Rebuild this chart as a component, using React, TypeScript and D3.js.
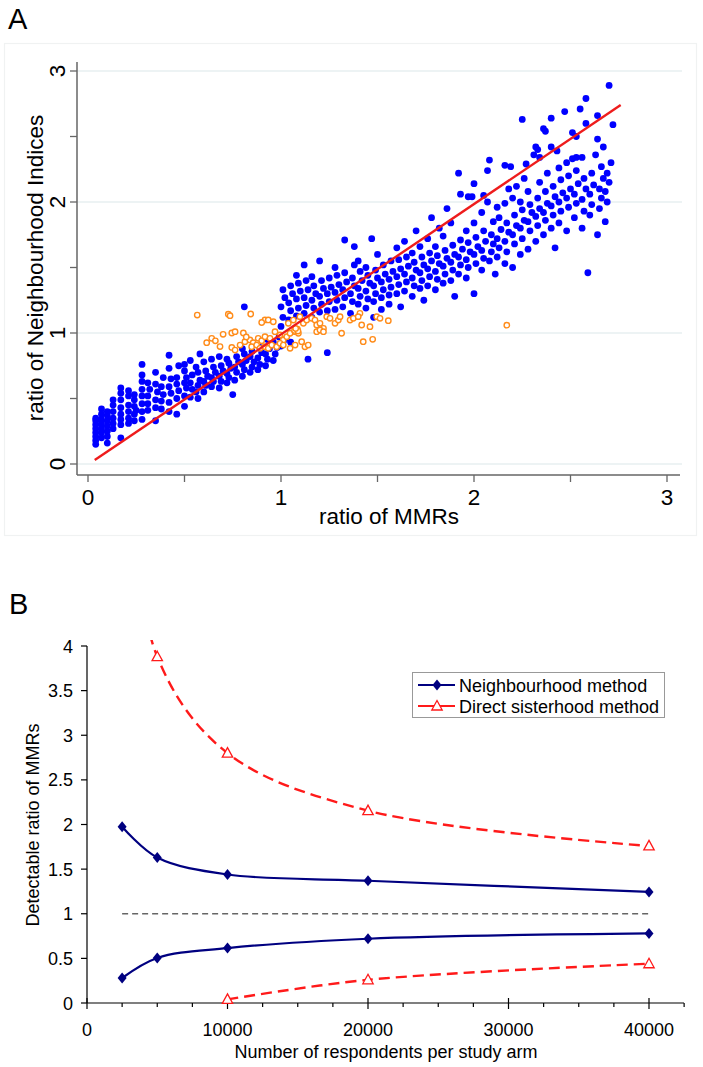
import React from "react";
import * as d3 from "d3";

// ---------- Panel A data ----------
const blueLow: [number, number][] = [
  [0.04,0.15],[0.04,0.18],[0.04,0.21],[0.04,0.24],[0.04,0.27],[0.04,0.30],[0.04,0.33],[0.04,0.35],
  [0.07,0.20],[0.07,0.24],[0.07,0.27],[0.07,0.31],[0.07,0.34],[0.07,0.38],[0.07,0.42],
  [0.10,0.16],[0.10,0.21],[0.10,0.25],[0.10,0.29],[0.10,0.33],[0.10,0.37],[0.10,0.40],
  [0.13,0.27],[0.13,0.31],[0.13,0.35],[0.13,0.40],[0.13,0.45],[0.13,0.49],
  [0.17,0.20],[0.17,0.30],[0.17,0.34],[0.17,0.38],[0.17,0.43],[0.17,0.49],[0.17,0.54],[0.17,0.58],
  [0.21,0.31],[0.21,0.35],[0.21,0.40],[0.21,0.45],[0.21,0.52],[0.21,0.56],
  [0.24,0.33],[0.24,0.38],[0.24,0.44],[0.24,0.49],[0.24,0.53],[0.25,0.41],
  [0.28,0.34],[0.28,0.40],[0.28,0.46],[0.28,0.52],[0.28,0.57],[0.28,0.63],[0.28,0.68],[0.28,0.76],
  [0.31,0.41],[0.31,0.46],[0.31,0.52],[0.32,0.57],[0.31,0.62],
  [0.35,0.33],[0.35,0.43],[0.35,0.49],[0.36,0.55],[0.35,0.61],[0.35,0.70],
  [0.38,0.42],[0.38,0.48],[0.39,0.53],[0.38,0.59],[0.39,0.66],
  [0.42,0.40],[0.42,0.47],[0.43,0.54],[0.42,0.59],[0.43,0.65],[0.42,0.73],[0.42,0.83],
  [0.46,0.38],[0.46,0.50],[0.47,0.56],[0.46,0.61],[0.46,0.66],[0.47,0.75],
  [0.50,0.44],[0.50,0.52],[0.51,0.58],[0.50,0.62],[0.51,0.66],[0.50,0.71],[0.50,0.76],
  [0.53,0.51],[0.54,0.57],[0.53,0.62],[0.54,0.68],[0.53,0.79],
  [0.57,0.50],[0.56,0.55],[0.57,0.60],[0.58,0.64],[0.57,0.70],[0.56,0.74],[0.58,0.84],
];

const blueMid: [number, number][] = [
  [0.60,0.55],[0.61,0.60],[0.60,0.63],[0.62,0.67],[0.61,0.71],[0.60,0.78],
  [0.64,0.59],[0.65,0.63],[0.64,0.66],[0.66,0.70],[0.65,0.74],[0.64,0.80],
  [0.68,0.58],[0.69,0.63],[0.68,0.67],[0.70,0.71],[0.69,0.75],[0.68,0.82],
  [0.72,0.62],[0.73,0.66],[0.72,0.69],[0.74,0.73],[0.73,0.77],[0.72,0.80],
  [0.75,0.53],[0.76,0.64],[0.77,0.70],[0.76,0.74],[0.78,0.78],[0.77,0.82],
  [0.80,0.67],[0.81,0.72],[0.80,0.76],[0.82,0.79],[0.81,0.84],[0.80,0.88],[0.81,1.20],
  [0.84,0.70],[0.85,0.74],[0.86,0.78],[0.84,0.82],[0.85,0.86],
  [0.88,0.72],[0.89,0.76],[0.88,0.81],[0.90,0.85],[0.89,0.89],
  [0.92,0.75],[0.93,0.80],[0.92,0.84],[0.94,0.88],[0.93,0.95],
  [0.96,0.79],[0.97,0.84],[0.98,0.89],[0.96,0.93],[0.99,0.97],
  [1.00,1.05],[1.01,1.12],[1.00,1.20],[1.02,1.27],[1.01,1.33],[1.00,0.90],[1.02,0.95],
  [1.04,1.10],[1.05,1.17],[1.04,1.23],[1.06,1.30],[1.05,1.36],[1.05,0.93],
  [1.08,1.13],[1.09,1.19],[1.08,1.26],[1.10,1.32],[1.09,1.38],[1.08,1.44],
  [1.12,1.15],[1.13,1.21],[1.12,1.27],[1.14,1.33],[1.13,1.40],[1.14,0.80],[1.12,1.52],
  [1.16,1.12],[1.17,1.19],[1.16,1.25],[1.18,1.30],[1.17,1.36],[1.16,1.43],
  [1.20,1.16],[1.21,1.22],[1.20,1.28],[1.22,1.34],[1.21,1.40],[1.20,1.55],
  [1.24,0.85],[1.24,1.17],[1.25,1.24],[1.24,1.30],[1.26,1.35],[1.25,1.42],
  [1.28,1.18],[1.29,1.25],[1.28,1.31],[1.30,1.37],[1.29,1.44],[1.28,1.50],
  [1.32,1.20],[1.33,1.27],[1.32,1.33],[1.34,1.39],[1.33,1.46],[1.33,1.71],
  [1.36,1.15],[1.37,1.24],[1.36,1.30],[1.38,1.36],[1.37,1.42],[1.38,1.66],[1.38,1.52],
  [1.40,1.22],[1.41,1.28],[1.40,1.34],[1.42,1.40],[1.41,1.47],[1.40,1.55],
  [1.44,1.19],[1.45,1.26],[1.44,1.32],[1.46,1.38],[1.45,1.44],[1.44,1.50],[1.47,1.72],
  [1.48,1.24],[1.49,1.30],[1.48,1.36],[1.50,1.42],[1.49,1.48],[1.50,1.60],[1.48,1.12],
  [1.52,1.27],[1.53,1.33],[1.52,1.39],[1.54,1.45],[1.53,1.52],[1.52,1.18],
  [1.56,1.29],[1.57,1.35],[1.56,1.41],[1.58,1.47],[1.57,1.55],[1.56,1.22],
];

const blueHigh: [number, number][] = [
  [1.60,1.30],[1.61,1.37],[1.60,1.43],[1.62,1.49],[1.61,1.56],[1.60,1.65],[1.62,1.20],
  [1.64,1.32],[1.65,1.39],[1.64,1.45],[1.66,1.51],[1.65,1.58],[1.64,1.70],
  [1.68,1.28],[1.69,1.36],[1.68,1.42],[1.70,1.48],[1.69,1.54],[1.68,1.61],[1.70,1.78],
  [1.72,1.34],[1.73,1.40],[1.72,1.46],[1.74,1.52],[1.73,1.58],[1.72,1.66],[1.74,1.25],
  [1.76,1.36],[1.77,1.43],[1.76,1.49],[1.78,1.55],[1.77,1.61],[1.76,1.72],[1.78,1.88],
  [1.80,1.33],[1.81,1.41],[1.80,1.47],[1.82,1.53],[1.81,1.59],[1.80,1.66],[1.82,1.80],
  [1.84,1.38],[1.85,1.45],[1.84,1.51],[1.86,1.57],[1.85,1.63],[1.84,1.74],[1.86,1.95],
  [1.88,1.40],[1.89,1.48],[1.88,1.54],[1.90,1.60],[1.89,1.67],[1.88,1.84],[1.90,1.28],
  [1.92,1.45],[1.93,1.52],[1.92,1.58],[1.94,1.64],[1.93,1.71],[1.92,2.22],[1.93,2.06],
  [1.96,1.42],[1.97,1.50],[1.96,1.56],[1.98,1.62],[1.97,1.69],[1.96,1.78],[1.97,2.04],[1.99,2.04],
  [2.00,1.30],[2.01,1.53],[2.00,1.60],[2.02,1.66],[2.01,1.73],[2.00,1.84],[2.00,2.14],
  [2.04,1.48],[2.05,1.57],[2.04,1.63],[2.06,1.70],[2.05,1.78],[2.04,1.92],[2.05,2.05],[2.07,2.24],[2.07,2.00],[2.08,2.32],
  [2.08,1.55],[2.09,1.62],[2.10,1.68],[2.09,1.75],[2.10,1.85],[2.11,1.45],
  [2.12,1.58],[2.13,1.65],[2.12,1.72],[2.14,1.79],[2.13,1.88],[2.12,1.96],[2.16,2.28],[2.19,2.27],
  [2.16,1.53],[2.17,1.62],[2.16,1.70],[2.18,1.77],[2.17,1.84],[2.16,1.99],[2.18,2.10],
  [2.20,1.50],[2.21,1.68],[2.20,1.75],[2.22,1.82],[2.21,1.90],[2.20,2.03],[2.22,2.12],[2.25,2.63],[2.27,2.29],
  [2.24,1.60],[2.25,1.72],[2.24,1.80],[2.26,1.86],[2.25,1.94],[2.24,2.00],[2.26,2.18],
  [2.28,1.64],[2.29,1.78],[2.28,1.85],[2.30,1.92],[2.29,1.98],[2.28,2.08],[2.31,2.36],[2.32,2.42],[2.33,2.40],
  [2.32,1.70],[2.33,1.82],[2.32,1.89],[2.34,1.95],[2.33,2.03],[2.34,2.15],[2.34,2.34],[2.36,2.56],[2.37,2.54],
  [2.36,1.75],[2.37,1.86],[2.36,1.92],[2.38,1.99],[2.37,2.08],[2.38,2.22],[2.40,2.64],[2.40,2.42],
  [2.40,1.80],[2.41,1.90],[2.40,1.97],[2.42,2.04],[2.41,2.12],[2.43,2.39],[2.42,1.65],
  [2.44,1.84],[2.45,1.93],[2.44,2.00],[2.46,2.07],[2.45,2.17],[2.44,2.26],
  [2.47,2.69],[2.48,1.78],[2.49,1.96],[2.48,2.03],[2.50,2.10],[2.49,2.20],[2.48,2.30],
  [2.51,2.53],[2.51,2.33],[2.52,1.88],[2.53,1.99],[2.52,2.06],[2.54,2.14],[2.53,2.24],[2.53,2.50],[2.53,2.34],
  [2.55,2.71],[2.56,1.80],[2.57,1.93],[2.56,2.02],[2.58,2.10],[2.57,2.18],[2.56,2.34],[2.58,2.60],[2.58,2.79],[2.59,1.46],
  [2.60,1.90],[2.61,1.98],[2.60,2.06],[2.62,2.13],[2.61,2.22],[2.63,2.36],[2.64,2.66],[2.64,2.48],
  [2.64,1.75],[2.65,1.95],[2.66,2.03],[2.65,2.10],[2.67,2.18],[2.66,2.27],[2.67,2.42],
  [2.68,1.85],[2.69,2.00],[2.68,2.08],[2.70,2.15],[2.69,2.22],[2.70,2.89],[2.72,2.59],[2.71,2.30],
];

const orangePts: [number, number][] = [
  [0.566,1.137],[0.727,1.143],[0.736,1.132],[0.843,1.145],[0.917,1.10],[0.934,1.10],[0.96,1.086],
  [0.745,1.0],[0.762,1.01],[0.805,1.0],[0.615,0.926],[0.641,0.959],[0.684,0.896],[0.745,0.89],[0.762,0.87],
  [0.788,0.908],[0.813,0.934],[0.839,0.947],[0.856,0.926],[0.882,0.959],[0.90,0.941],[0.917,0.972],
  [0.943,0.959],[0.969,1.01],[0.995,0.985],[1.012,0.947],[1.03,0.972],[1.047,0.998],[1.073,1.01],[1.081,1.023],[1.09,0.998],
  [0.848,0.895],[0.874,0.908],[0.891,0.883],[0.917,0.895],[0.934,0.883],[0.952,0.908],[0.978,0.895],[0.995,0.921],[1.012,0.908],
  [1.047,0.883],[1.073,0.908],[1.107,0.934],[1.124,0.895],[1.141,0.908],
  [1.038,1.074],[1.064,1.099],[1.098,1.125],[1.116,1.074],[1.133,1.099],[1.159,1.112],[1.176,1.099],[1.185,1.061],
  [1.202,1.074],[1.22,1.036],[1.237,1.125],[1.254,1.112],[1.28,1.074],[1.297,1.099],[1.306,1.125],[1.314,0.998],
  [1.185,1.01],[1.202,1.023],[1.22,1.01],
  [1.358,1.099],[1.375,1.112],[1.409,1.15],[1.40,1.125],[1.418,1.061],[1.461,1.048],[1.496,1.125],[1.513,1.112],[1.556,1.094],
  [1.426,0.934],[1.475,0.952],[2.17,1.06],
  [1.07,1.02],[1.085,1.03],[1.088,1.015],[1.076,1.035],[0.90,1.08],[0.70,0.99],[0.66,0.94],[0.82,0.97],
];

const fitX = [0.035, 2.76];
const fitY = [0.03, 2.74];

const axisATicks = [0, 1, 2, 3];
const axisAMinor = [0.5, 1.5, 2.5];

// ---------- Panel B data ----------
const respondents = [2500, 5000, 10000, 20000, 40000];
const nbUpper = [1.975, 1.63, 1.44, 1.37, 1.245];
const nbLower = [0.28, 0.505, 0.615, 0.72, 0.78];
const dsRespUpper = [2500, 5000, 10000, 20000, 40000];
const dsUpper = [6.4, 3.88, 2.8, 2.155, 1.76];
const dsRespLower = [10000, 20000, 40000];
const dsLower = [0.04, 0.26, 0.44];
const refLevel = 1;
const yBTicks = [0, 0.5, 1, 1.5, 2, 2.5, 3, 3.5, 4];
const xBTicks = [0, 10000, 20000, 30000, 40000];
const legendLabels = ["Neighbourhood method", "Direct sisterhood method"];

const FONT = "'Liberation Sans', Arial, sans-serif";
const NAVY = "#000080";
const RED = "#ff1a1a";

export default function App() {
  // Panel A scales
  const xA = d3.scaleLinear().domain([0, 3]).range([88, 667]);
  const yA = d3.scaleLinear().domain([0, 3]).range([464, 71]);
  const axA = 77;
  const ayA = 475;
  const gridEndA = 682;

  // Panel B scales
  const xB = d3.scaleLinear().domain([0, 40000]).range([87, 649]);
  const yB = d3.scaleLinear().domain([0, 4]).range([1003, 646]);
  const curve = d3.curveCatmullRom.alpha(0.5);
  const lineB = (xs: number[], ys: number[]) =>
    d3.line<number>().x((_, i) => xB(xs[i])).y((d) => yB(d)).curve(curve)(ys) || "";

  const xBMinor = d3.range(0, 42501, 2500).filter((v) => v % 10000 !== 0);

  const diamond = "M0,-5.5L4.5,0L0,5.5L-4.5,0Z";
  const triangle = "M0,-5.5L5.2,4L-5.2,4Z";

  const allBlue = [...blueLow, ...blueMid, ...blueHigh];

  return (
    <svg width={703} height={1067} style={{ position: "absolute", left: 0, top: 0, background: "#fff" }} fontFamily={FONT}>
      <rect x={0} y={0} width={703} height={1067} fill="#fff" />
      {/* ===== Panel A ===== */}
      <text x={8} y={29} fontSize={29} fill="#000">A</text>
      <rect x={4.5} y={43.5} width={692} height={492} fill="none" stroke="#f0f2f2" strokeWidth={1.2} />
      {axisATicks.map((t) => (
        <line key={"g" + t} x1={axA} x2={gridEndA} y1={yA(t)} y2={yA(t)} stroke="#e7eff0" strokeWidth={1.5} />
      ))}
      <line x1={axA} x2={axA} y1={62} y2={ayA} stroke="#666" strokeWidth={1.5} />
      <line x1={axA} x2={680} y1={ayA} y2={ayA} stroke="#666" strokeWidth={1.5} />
      {[...axisATicks, ...axisAMinor].map((t) => (
        <line key={"yt" + t} x1={axA - 7} x2={axA} y1={yA(t)} y2={yA(t)} stroke="#666" strokeWidth={1.3} />
      ))}
      {[...axisATicks, ...axisAMinor].map((t) => (
        <line key={"xt" + t} x1={xA(t)} x2={xA(t)} y1={ayA} y2={ayA + 7} stroke="#666" strokeWidth={1.3} />
      ))}
      {axisATicks.map((t) => (
        <text key={"yl" + t} transform={`translate(65,${yA(t)}) rotate(-90)`} textAnchor="middle" fontSize={22.5} fill="#000">
          {t}
        </text>
      ))}
      {axisATicks.map((t) => (
        <text key={"xl" + t} x={xA(t)} y={505} textAnchor="middle" fontSize={22.5} fill="#000">
          {t}
        </text>
      ))}
      <text x={389} y={524} textAnchor="middle" fontSize={22.5} fill="#000">ratio of MMRs</text>
      <text transform="translate(43,268) rotate(-90)" textAnchor="middle" fontSize={22.5} fill="#000">
        ratio of Neighbourhood Indices
      </text>
      {allBlue.map(([x, y], i) => (
        <circle key={"b" + i} cx={xA(x)} cy={yA(y)} r={3.4} fill="#0000ff" />
      ))}
      {orangePts.map(([x, y], i) => (
        <circle key={"o" + i} cx={xA(x)} cy={yA(y)} r={2.7} fill="#fff" stroke="#ff8c1a" strokeWidth={1.4} />
      ))}
      <line x1={xA(fitX[0])} y1={yA(fitY[0])} x2={xA(fitX[1])} y2={yA(fitY[1])} stroke="#ee1c1c" strokeWidth={2.4} />

      {/* ===== Panel B ===== */}
      <text x={9} y={614} fontSize={29} fill="#000">B</text>
      <defs>
        <clipPath id="plotB">
          <rect x={87} y={640} width={600} height={370} />
        </clipPath>
      </defs>
      <line x1={87} x2={87} y1={646} y2={1003} stroke="#000" strokeWidth={1.2} />
      <line x1={87} x2={684} y1={1003} y2={1003} stroke="#000" strokeWidth={1.2} />
      {yBTicks.map((t) => (
        <g key={"ybt" + t}>
          <line x1={81} x2={87} y1={yB(t)} y2={yB(t)} stroke="#000" strokeWidth={1.2} />
          <text x={73} y={yB(t) + 6.5} textAnchor="end" fontSize={18} fill="#000">{t}</text>
        </g>
      ))}
      {xBTicks.map((t) => (
        <g key={"xbt" + t}>
          <line x1={xB(t)} x2={xB(t)} y1={998} y2={1009} stroke="#000" strokeWidth={1.2} />
          <text x={xB(t)} y={1036} textAnchor="middle" fontSize={18} fill="#000">{t}</text>
        </g>
      ))}
      {xBMinor.map((t) => (
        <line key={"xbm" + t} x1={xB(t)} x2={xB(t)} y1={1003} y2={1007} stroke="#000" strokeWidth={1.2} />
      ))}
      <text x={386} y={1058} textAnchor="middle" fontSize={18} fill="#000">Number of respondents per study arm</text>
      <text transform="translate(39,825) rotate(-90)" textAnchor="middle" fontSize={18} fill="#000">
        Detectable ratio of MMRs
      </text>

      <line x1={xB(2500)} x2={xB(40000)} y1={yB(refLevel)} y2={yB(refLevel)} stroke="#666" strokeWidth={1.6} strokeDasharray="6,4" />

      <g clipPath="url(#plotB)">
        <path d={lineB(dsRespUpper, dsUpper)} fill="none" stroke={RED} strokeWidth={2.4} strokeDasharray="11,6" />
      </g>
      <path d={lineB(dsRespLower, dsLower)} fill="none" stroke={RED} strokeWidth={2.4} strokeDasharray="11,6" />
      <path d={lineB(respondents, nbUpper)} fill="none" stroke={NAVY} strokeWidth={2.2} />
      <path d={lineB(respondents, nbLower)} fill="none" stroke={NAVY} strokeWidth={2.2} />

      {respondents.map((r, i) => (
        <path key={"du" + i} d={diamond} transform={`translate(${xB(r)},${yB(nbUpper[i])})`} fill={NAVY} />
      ))}
      {respondents.map((r, i) => (
        <path key={"dl" + i} d={diamond} transform={`translate(${xB(r)},${yB(nbLower[i])})`} fill={NAVY} />
      ))}
      {dsRespUpper.map((r, i) =>
        dsUpper[i] <= 4 ? (
          <path key={"tu" + i} d={triangle} transform={`translate(${xB(r)},${yB(dsUpper[i])})`} fill="#fff" stroke={RED} strokeWidth={1.3} />
        ) : null
      )}
      {dsRespLower.map((r, i) => (
        <path key={"tl" + i} d={triangle} transform={`translate(${xB(r)},${yB(dsLower[i])})`} fill="#fff" stroke={RED} strokeWidth={1.3} />
      ))}

      {/* Legend */}
      <rect x={412.5} y={672.5} width={252} height={45} fill="#fff" stroke="#999" strokeWidth={1} />
      <line x1={418} x2={455} y1={685} y2={685} stroke={NAVY} strokeWidth={2.2} />
      <path d={diamond} transform="translate(437,685)" fill={NAVY} />
      <text x={459} y={691.5} fontSize={18} fill="#000">{legendLabels[0]}</text>
      <line x1={418} x2={455} y1={706} y2={706} stroke={RED} strokeWidth={2.2} />
      <path d={triangle} transform="translate(437,706)" fill="#fff" stroke={RED} strokeWidth={1.3} />
      <text x={459} y={712.5} fontSize={18} fill="#000">{legendLabels[1]}</text>
    </svg>
  );
}
